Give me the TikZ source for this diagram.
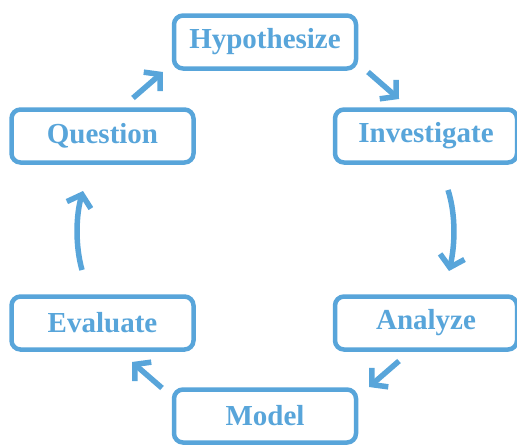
\documentclass[tikz,border=0pt]{standalone}
\usepackage{fontspec}
\setmainfont{Liberation Serif}
\usetikzlibrary{arrows.meta}
\definecolor{cblue}{RGB}{88,165,218}
\begin{document}
\begin{tikzpicture}[x=1pt,y=-1pt,
  stagebox/.style={draw=cblue,line width=4.5pt,rounded corners=9pt,fill=white,
    minimum width=182pt,minimum height=53pt,inner sep=0pt,
    font=\fontsize{29}{32}\selectfont\bfseries,text=cblue},
  flow/.style={draw=cblue,line width=5.5pt,-{Straight Barb[length=11pt,width=25pt,line width=5.5pt]}}]
\useasboundingbox (0,0) rectangle (517,445);
\node[stagebox] (hyp) at (265,42) {Hypothesize};
\node[stagebox] (que) at (102.5,136) {Question};
\node[stagebox] (inv) at (426,136) {Investigate};
\node[stagebox] (eva) at (102.5,323) {Evaluate};
\node[stagebox] (ana) at (426,323) {Analyze};
\node[stagebox] (mod) at (265,416) {Model};
\coordinate (a1s) at (133,98);  \coordinate (a1e) at (163,72);
\coordinate (a2s) at (368,72);  \coordinate (a2e) at (399,99);
\coordinate (a3s) at (448,190); \coordinate (a3e) at (449,271);
\coordinate (a4s) at (399,361); \coordinate (a4e) at (369,387);
\coordinate (a5s) at (162,388); \coordinate (a5e) at (132,362);
\coordinate (a6s) at (82,270);  \coordinate (a6e) at (83,191);
\draw[flow] (a1s) -- (a1e);
\draw[flow] (a2s) -- (a2e);
\draw[flow] (a3s) .. controls (456,215) and (455,245) .. (a3e);
\draw[flow] (a4s) -- (a4e);
\draw[flow] (a5s) -- (a5e);
\draw[flow] (a6s) .. controls (75,245) and (76,215) .. (a6e);
\end{tikzpicture}
\end{document}
